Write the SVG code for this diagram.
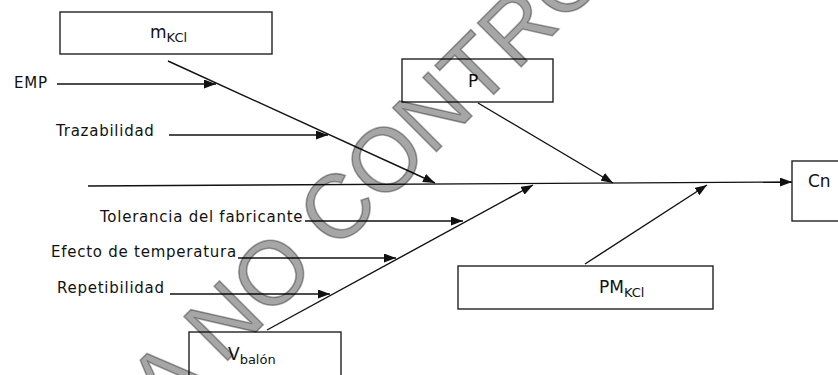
<svg xmlns="http://www.w3.org/2000/svg" width="838" height="375" viewBox="0 0 838 375">
<defs>
<style>
.lbl{font-family:"DejaVu Sans",Verdana,sans-serif;font-size:15px;letter-spacing:0.75px;fill:#111}
.big{font-family:"DejaVu Sans",Verdana,sans-serif;font-size:17px;fill:#111}
.sub{font-size:13px}
.box{fill:#fff;stroke:#222;stroke-width:1.4}
.ln{stroke:#111;stroke-width:1.4;fill:none;marker-end:url(#ah)}
.wm{font-family:"Liberation Sans",Arial,sans-serif;font-size:90px;fill:#000;fill-opacity:0.35;stroke:#000;stroke-opacity:0.35;stroke-width:1.6}
</style>
<marker id="ah" viewBox="0 0 12 9" refX="12" refY="4.5" markerWidth="12" markerHeight="9" markerUnits="userSpaceOnUse" orient="auto">
<path d="M0,0 L12,4.5 L0,9 z" fill="#111"/>
</marker>
</defs>
<rect width="838" height="375" fill="#fff"/>
<g id="connectors">
<line class="ln" x1="88" y1="186" x2="792" y2="182"/>
<line class="ln" x1="168" y1="61" x2="435" y2="183"/>
<line class="ln" x1="57" y1="84" x2="216" y2="84"/>
<line class="ln" x1="169" y1="135" x2="328" y2="135"/>
<line class="ln" x1="478" y1="103" x2="613" y2="183"/>
<line class="ln" x1="305" y1="221" x2="463" y2="221"/>
<line class="ln" x1="238" y1="258" x2="396" y2="258"/>
<line class="ln" x1="170" y1="294" x2="330" y2="294"/>
<line class="ln" x1="267" y1="330" x2="533" y2="185"/>
<line class="ln" x1="585" y1="264" x2="707" y2="185"/>
</g>
<g id="node-mkcl">
<rect class="box" x="60" y="12" width="212" height="42"/>
<text class="big" x="150" y="38">m<tspan class="sub" dy="4">KCl</tspan></text>
</g>
<g id="node-p">
<rect class="box" x="402" y="59" width="151" height="43"/>
<text class="big" x="468" y="87">P</text>
</g>
<g id="node-cn">
<rect class="box" x="792" y="161" width="60" height="60"/>
<text class="big" x="808" y="187">Cn</text>
</g>
<g id="node-pmkcl">
<rect class="box" x="458" y="266" width="255" height="43"/>
<text class="big" x="599" y="293">PM<tspan class="sub" dy="4">KCl</tspan></text>
</g>
<g id="node-vbalon">
<rect class="box" x="189" y="332" width="152" height="60"/>
<text class="big" x="228" y="360">V<tspan class="sub" dy="4">balón</tspan></text>
</g>
<g id="node-emp"><text class="lbl" x="14" y="88">EMP</text></g>
<g id="node-trazabilidad"><text class="lbl" x="56" y="136">Trazabilidad</text></g>
<g id="node-tolerancia"><text class="lbl" x="100" y="222">Tolerancia del fabricante</text></g>
<g id="node-efecto"><text class="lbl" x="51" y="257">Efecto de temperatura</text></g>
<g id="node-repetibilidad"><text class="lbl" x="57" y="293">Repetibilidad</text></g>
<text class="wm" transform="translate(166,422) rotate(-45)">A NO CONTRO</text>
</svg>
